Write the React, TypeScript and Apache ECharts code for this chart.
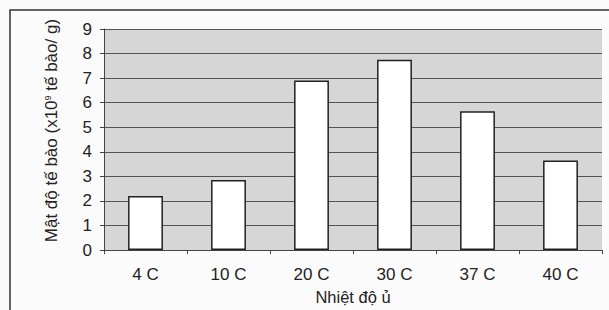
import React, { useEffect, useRef } from "react";
import * as echarts from "echarts";

const categories = ["4 C", "10 C", "20 C", "30 C", "37 C", "40 C"];
const values = [2.2, 2.85, 6.9, 7.75, 5.65, 3.65];
const xName = "Nhiệt độ ủ";

export default function App() {
  const ref = useRef<HTMLDivElement>(null);
  useEffect(() => {
    const chart = echarts.init(ref.current!, null, { renderer: "svg" });
    const font = "Liberation Sans, Arial, sans-serif";
    chart.setOption({
      animation: false,
      backgroundColor: "#fbfbfb",
      graphic: [
        {
          type: "rect",
          shape: { x: 10, y: 10, width: 620, height: 320 },
          style: { fill: "none", stroke: "#333", lineWidth: 1.5 },
          silent: true,
        },
      ],
      grid: { left: 104, right: 7, top: 29, bottom: 58, containLabel: false, show: true, backgroundColor: "#d6d6d6", borderWidth: 0 },
      xAxis: {
        type: "category",
        data: categories,
        name: xName,
        nameLocation: "middle",
        nameGap: 35,
        nameTextStyle: { fontFamily: font, fontSize: 16.5, color: "#222" },
        axisLine: { lineStyle: { color: "#444", width: 1 } },
        axisTick: { show: true, length: 4, lineStyle: { color: "#444" } },
        axisLabel: { fontFamily: font, fontSize: 17, color: "#222", margin: 16 },
      },
      yAxis: {
        type: "value",
        min: 0,
        max: 9,
        interval: 1,
        name: "Mật độ tế bào (x10{sup|9} tế bào/ g)",
        nameLocation: "middle",
        nameGap: 44,
        nameTextStyle: {
          fontFamily: font,
          fontSize: 17,
          color: "#222",
          padding: [0, 0, 0, 18],
          rich: { sup: { fontFamily: font, fontSize: 9, verticalAlign: "top", color: "#222", padding: [0, 0, 7, 0] } },
        },
        axisLine: { show: true, lineStyle: { color: "#444", width: 1 } },
        axisTick: { show: true, length: 4, lineStyle: { color: "#444" } },
        axisLabel: { fontFamily: font, fontSize: 17, color: "#222", margin: 12 },
        splitLine: { show: true, lineStyle: { color: "#555", width: 1 } },
      },
      series: [
        {
          type: "bar",
          data: values,
          barWidth: "42%",
          itemStyle: { color: "#ffffff", borderColor: "#222", borderWidth: 1.5 },
        },
      ],
    });
    return () => chart.dispose();
  }, []);
  return <div ref={ref} style={{ position: "fixed", left: 0, top: 0, width: 609, height: 310 }} />;
}
